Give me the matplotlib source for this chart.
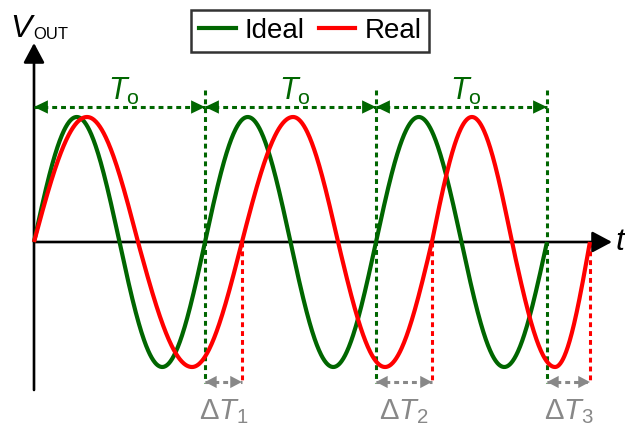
import numpy as np
import matplotlib
matplotlib.use('Agg')
import matplotlib.pyplot as plt
import matplotlib.transforms as mtransforms
from matplotlib.lines import Line2D

plt.rcParams['font.family'] = ['Liberation Sans', 'DejaVu Sans']
plt.rcParams['mathtext.fontset'] = 'custom'
plt.rcParams['mathtext.rm'] = 'Liberation Sans'
plt.rcParams['mathtext.it'] = 'Liberation Sans:italic'

# Ideal oscillator: period T0, three full cycles
T0 = 1.0
n_cycles = 3

# Real oscillator: successive zero crossings / extrema (time in units of T0)
real_t = [0.0, 0.310, 0.608, 0.924, 1.216, 1.515, 1.778, 2.053,
          2.327, 2.561, 2.795, 3.047, 3.251]
real_v = [0, 1, 0, -1, 0, 1, 0, -1, 0, 1, 0, -1, 0]

delta_subs = ['1', '2', '3']
legend_labels = ['Ideal', 'Real']

GREEN = '#006600'
RED = '#ff0000'
GRAY = '#888888'

W, H = 625, 425
fig = plt.figure(figsize=(W / 100, H / 100), dpi=100)
ax = fig.add_axes([0, 0, 1, 1])
ax.set_xlim(-34 / 171, (W - 34) / 171)
ax.set_ylim(-(H - 242) / 125, 242 / 125)
ax.axis('off')

# x in data units, y in pixels counted from the top
px_y = mtransforms.Affine2D().scale(1, -1 / H).translate(0, 1) + ax.transAxes
tx = mtransforms.blended_transform_factory(ax.transData, px_y)
# both in pixels from the top-left corner
pxy = mtransforms.Affine2D().scale(1 / W, -1 / H).translate(0, 1) + ax.transAxes

# --- curves ---
t = np.linspace(0, n_cycles * T0, 1200)
ax.plot(t, np.sin(2 * np.pi * t / T0), color=GREEN, lw=3, zorder=3,
        solid_capstyle='butt')

rt, rv = [], []
for i in range(len(real_t) - 1):
    a, b = real_v[i], real_v[i + 1]
    s = np.linspace(0, 1, 80)
    seg_t = real_t[i] + s * (real_t[i + 1] - real_t[i])
    seg_v = b * np.sin(s * np.pi / 2) if a == 0 else a * np.cos(s * np.pi / 2)
    rt.extend(seg_t)
    rv.extend(seg_v)
ax.plot(rt, rv, color=RED, lw=3, zorder=4, solid_capstyle='butt')

# --- axes with arrow heads ---
ax_arrow = dict(arrowstyle='-|>,head_length=0.6,head_width=0.32',
                mutation_scale=20, lw=1.9, color='black', shrinkA=0, shrinkB=0)
ax.annotate('', xy=(612, 242), xytext=(34, 242), xycoords=pxy,
            textcoords=pxy, arrowprops=ax_arrow, zorder=2)
ax.annotate('', xy=(34, 43), xytext=(34, 390), xycoords=pxy,
            textcoords=pxy, arrowprops=ax_arrow, zorder=2)

ax.text(10, 37, 'V', transform=pxy, fontsize=23, style='italic',
        va='baseline', ha='left')
ax.text(33, 39, 'OUT', transform=pxy, fontsize=12, va='baseline', ha='left')
ax.text(616, 250, 't', transform=pxy, fontsize=23, style='italic',
        va='baseline', ha='left')

dash = (1.6, 1.3)


def dashed_span(x0, x1, y, color, hl, hw):
    ax.plot([x0, x1], [y, y], transform=tx, color=color, lw=2.2,
            dashes=dash, zorder=2)
    ax.annotate('', xy=(x1, y), xytext=(x0, y), xycoords=tx, textcoords=tx,
                arrowprops=dict(arrowstyle=f'<|-|>,head_length={hl},head_width={hw}',
                                mutation_scale=20, lw=0, color=color,
                                shrinkA=0, shrinkB=0), zorder=2)


# --- period markers ---
real_ends = [real_t[4 * (k + 1)] for k in range(n_cycles)]
for k in range(n_cycles):
    x0, x1 = k * T0, (k + 1) * T0
    ax.plot([x1, x1], [90, 383], transform=tx, color=GREEN, lw=2.2,
            dashes=dash, zorder=1)
    ax.plot([real_ends[k], real_ends[k]], [242, 383], transform=tx,
            color=RED, lw=2.2, dashes=dash, zorder=1)

    dashed_span(x0, x1, 107, GREEN, 0.5, 0.24)
    mid = (x0 + x1) / 2
    ax.annotate(r'$T_{\mathrm{o}}$', xy=(mid, 100), xycoords=tx, xytext=(4, 0),
                textcoords='offset pixels', fontsize=22,
                color=GREEN, ha='center', va='baseline')

    dashed_span(x1, real_ends[k], 382, GRAY, 0.42, 0.22)
    dmid = (x1 + real_ends[k]) / 2
    ax.annotate(rf'$\Delta T_{{{delta_subs[k]}}}$', xy=(dmid, 419),
                xycoords=tx, xytext=(0, 0), textcoords='offset pixels',
                fontsize=21, color=GRAY, ha='center', va='baseline')

# --- legend ---
handles = [Line2D([], [], color=GREEN, lw=3), Line2D([], [], color=RED, lw=3)]
leg = ax.legend(handles, legend_labels, loc='upper left',
                bbox_to_anchor=(191 / W, 1 - 10 / H), ncol=2, fontsize=20,
                frameon=True, fancybox=False, borderaxespad=0, borderpad=0.28,
                handlelength=1.33, handletextpad=0.32, columnspacing=0.5,
                labelspacing=0)
leg.get_frame().set_edgecolor('black')
leg.get_frame().set_linewidth(1.8)
leg.set_zorder(5)

fig.savefig('out.png', dpi=100)
